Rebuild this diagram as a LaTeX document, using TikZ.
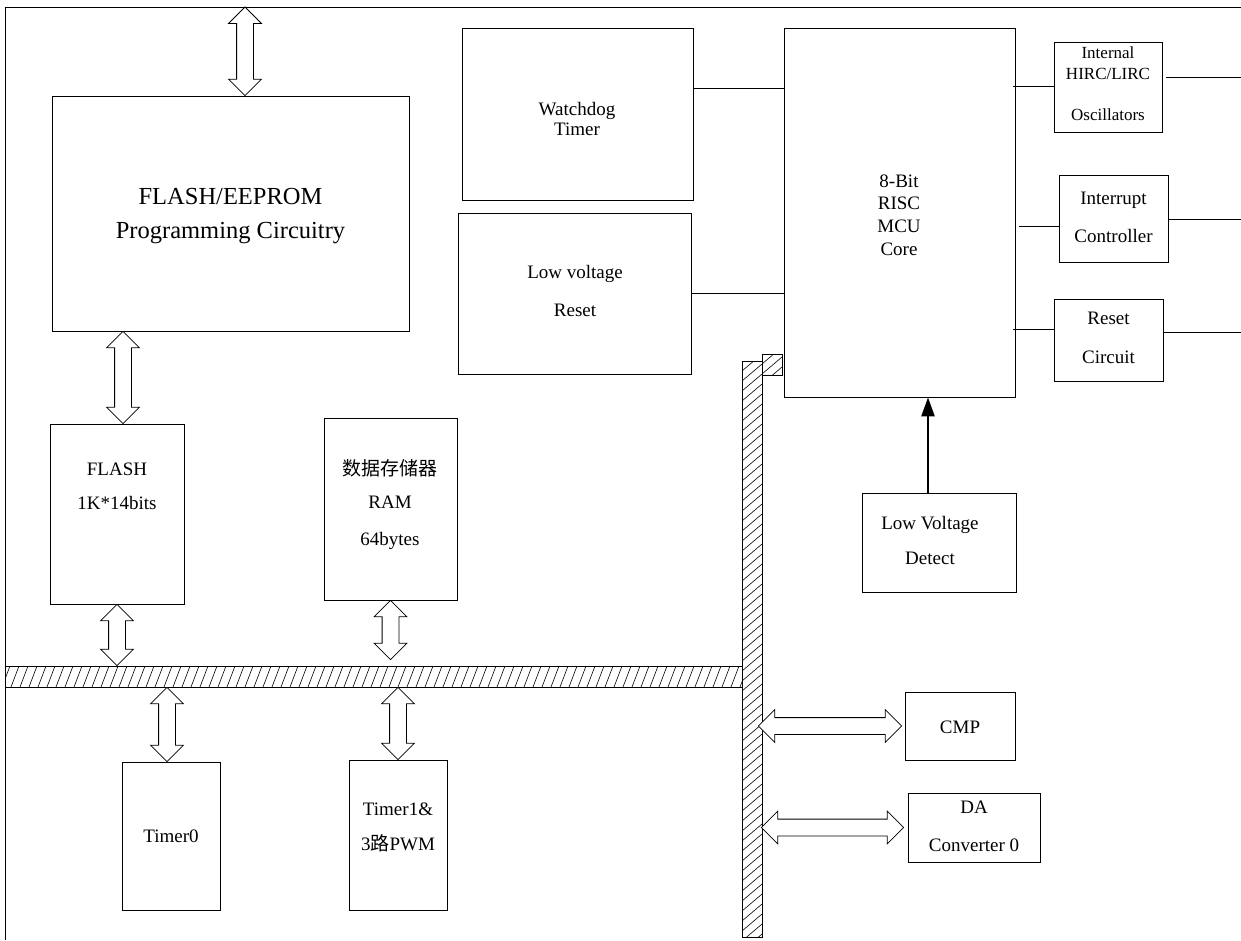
\documentclass[tikz,border=0pt]{standalone}
\usepackage{fontspec}
\setmainfont{Liberation Serif}
\newfontfamily\cjk{Noto Sans CJK SC}
\usetikzlibrary{calc,shapes.arrows,arrows.meta}

\tikzset{
  box/.style={draw, line width=0.8pt, fill=white, inner sep=0pt},
  txt/.style={align=center, inner sep=0pt, font=\fontsize{19}{22}\selectfont},
  dblarr/.style={double arrow, draw, line width=0.8pt, fill=white, inner xsep=0pt,
    inner ysep=8pt, double arrow head extend=8pt, double arrow tip angle=90},
  bus/.style={draw, line width=0.8pt, inner sep=0pt},
  hatchH/.style={path picture={\foreach \i in {0,...,86}{\draw[line width=0.6pt]
      ($(path picture bounding box.south west)+(\i*9-12,0)$) -- ++(8,-21);}}},
  hatchV/.style={path picture={\foreach \i in {0,...,62}{\draw[line width=0.6pt]
      ($(path picture bounding box.north west)+(0,\i*10)$) -- ++(20,-17);}}},
  wire/.style={line width=0.8pt},
}

\newcommand\blockarrow[3]{\path let \p1=(#2), \p2=(#3),
  \n1={veclen(\x2-\x1,\y2-\y1)}, \n2={atan2(\y2-\y1,\x2-\x1)} in
  node[dblarr, minimum height=\n1, rotate=\n2] (#1) at ($(\p1)!0.5!(\p2)$) {};}

\begin{document}
\begin{tikzpicture}[x=1pt,y=-1pt]
\useasboundingbox (0,0) rectangle (1241,940);

% frame
\coordinate (fr1) at (5,940);
\coordinate (fr2) at (5,7);
\coordinate (fr3) at (1241,7);
\draw[wire] (fr1) -- (fr2) -- (fr3);

% boxes
\node[box, minimum width=357pt, minimum height=235pt] (fprog) at (230.5,213.5) {};
\node[box, minimum width=134pt, minimum height=180pt] (flash) at (117,514) {};
\node[box, minimum width=133pt, minimum height=182pt] (ram) at (390.5,509) {};
\node[box, minimum width=98pt, minimum height=148pt] (timer0) at (171,836) {};
\node[box, minimum width=98pt, minimum height=150pt] (timer1) at (398,835) {};
\node[box, minimum width=231pt, minimum height=172pt] (wdt) at (577.5,114) {};
\node[box, minimum width=233pt, minimum height=161pt] (lvr) at (574.5,293.5) {};
\node[box, minimum width=231pt, minimum height=369pt] (mcu) at (899.5,212.5) {};
\node[box, minimum width=108pt, minimum height=90pt] (osc) at (1108,87) {};
\node[box, minimum width=109pt, minimum height=87pt] (intc) at (1113.5,218.5) {};
\node[box, minimum width=109pt, minimum height=82pt] (rstc) at (1108.5,340) {};
\node[box, minimum width=154pt, minimum height=99pt] (lvd) at (939,542.5) {};
\node[box, minimum width=110pt, minimum height=68pt] (cmp) at (960,726) {};
\node[box, minimum width=132pt, minimum height=69pt] (da) at (974,827.5) {};

% texts
\node[txt, font=\fontsize{24.5}{34}\selectfont] (fprog-t) at (230.5,216) {FLASH/EEPROM\\Programming Circuitry};
\node[txt, font=\fontsize{19}{20}\selectfont] (wdt-t) at (577,118.5) {Watchdog\\Timer};
\node[txt, font=\fontsize{19}{38}\selectfont] (lvr-t) at (575,291) {Low voltage\\Reset};
\node[txt, font=\fontsize{19}{22.7}\selectfont] (mcu-t) at (899,215) {8-Bit\\RISC\\MCU\\Core};
\node[txt, font=\fontsize{17}{21}\selectfont] (osc-t) at (1108,84) {Internal\\HIRC/LIRC\\[20pt]Oscillators};
\node[txt, font=\fontsize{19}{38}\selectfont] (intc-t) at (1113.5,217) {Interrupt\\Controller};
\node[txt, font=\fontsize{19}{39}\selectfont] (rstc-t) at (1108.5,337.5) {Reset\\Circuit};
\node[txt, font=\fontsize{19}{35}\selectfont] (lvd-t) at (930,540.5) {Low Voltage\\Detect};
\node[txt, font=\fontsize{19}{34}\selectfont] (flash-t) at (117,486) {FLASH\\1K*14bits};
\node[txt, font=\fontsize{19}{33}\selectfont] (ram-t) at (390,505) {{\cjk 数据存储器}\\RAM\\[4pt]64bytes};
\node[txt] (timer0-t) at (171,836) {Timer0};
\node[txt, font=\fontsize{19}{35}\selectfont] (timer1-t) at (398,827.5) {Timer1\&\\3{\cjk 路}PWM};
\node[txt] (cmp-t) at (960,727) {CMP};
\node[txt, font=\fontsize{19}{38}\selectfont] (da-t) at (974,826) {DA\\Converter 0};

% wires
\coordinate (y88) at (0,88);
\coordinate (y293) at (0,293);
\draw[wire] (wdt.east |- y88) -- (mcu.west |- y88);
\draw[wire] (lvr.east |- y293) -- (mcu.west |- y293);

\coordinate (y86) at (0,86);
\coordinate (oscR) at (1241,77);
\draw[wire] ($(mcu.east |- y86)+(-2,0)$) -- (osc.west |- y86);
\draw[wire] ($(osc.east |- oscR)+(4,0)$) -- (oscR);

\coordinate (y226) at (0,226);
\coordinate (intcR) at (1241,219);
\draw[wire] ($(mcu.east |- y226)+(4,0)$) -- (intc.west |- y226);
\draw[wire] (intc.east |- intcR) -- (intcR);

\coordinate (y329) at (0,329);
\coordinate (rstcR) at (1241,332);
\draw[wire] ($(mcu.east |- y329)+(-2,0)$) -- (rstc.west |- y329);
\draw[wire] (rstc.east |- rstcR) -- (rstcR);

\coordinate (x928) at (928,0);
\draw[line width=2.5pt, -{Triangle[length=19pt,width=13pt]}] (lvd.north -| x928) -- (mcu.south -| x928);

% buses
\node[bus, hatchH, minimum width=737pt, minimum height=21pt] (hbus) at (373.5,676.5) {};
\node[bus, hatchV, minimum width=20pt, minimum height=576pt] (vbus) at (752,649) {};
\node[bus, hatchV, minimum width=20pt, minimum height=21pt] (sq) at (772,364.5) {};

% block arrows
\coordinate (a1) at (245,7);
\coordinate (x123) at (123,0);
\coordinate (x167) at (167,0);
\blockarrow{ba1}{a1}{fprog.north -| a1}
\blockarrow{ba2}{fprog.south -| x123}{flash.north -| x123}
\blockarrow{ba3}{flash.south}{flash.south |- hbus.north}
\blockarrow{ba4}{ram.south}{$(ram.south |- hbus.north)+(0,-6)$}
\blockarrow{ba5}{hbus.south -| x167}{timer0.north -| x167}
\blockarrow{ba6}{hbus.south -| timer1.north}{timer1.north}
\blockarrow{ba7}{$(vbus.east |- cmp.west)+(-4,0)$}{$(cmp.west)+(-3,0)$}
\blockarrow{ba8}{$(vbus.east |- da.west)+(-1,0)$}{$(da.west)+(-4,0)$}

\end{tikzpicture}
\end{document}
